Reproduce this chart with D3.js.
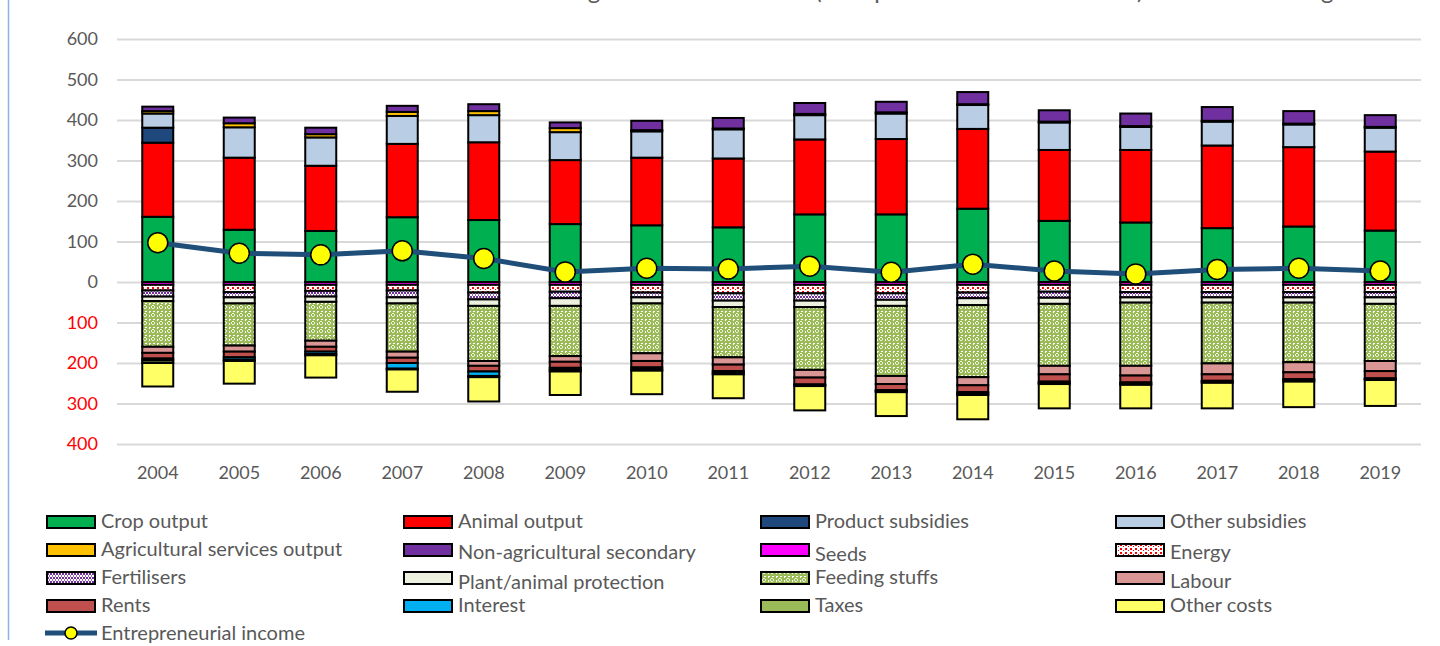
<!DOCTYPE html>
<html>
<head>
<meta charset="utf-8">
<script src="https://cdn.jsdelivr.net/npm/d3@7"></script>
<style>
  body { margin: 0; background: #fff; }
  svg text { font-family: Lato, "Open Sans", sans-serif; }
</style>
</head>
<body>
<div id="chart"></div>
<script>
// values (EUR thousand per farm)
var years = ["2004","2005","2006","2007","2008","2009","2010","2011","2012","2013","2014","2015","2016","2017","2018","2019"];

// output side (stacked up)
var cropOutput       = [161,129,126,160,153,143,140,135,167,167,181,151,147,133,137,127];
var animalOutput     = [183,178,161,181,192,158,167,170,185,186,197,175,179,204,196,195];
var productSubsidies = [37,0,0,0,0,0,0,0,0,0,0,0,0,0,0,0];
var otherSubsidies   = [35,75,70,69,67,69,65,72,60,63,59,68,57,59,56,59];
var agServices       = [6,10,8,10,10,10,3,2,3,3,2,2,2,2,2,2];
var nonAgSecondary   = [11,14,16,15,17,14,23,26,27,26,30,28,31,34,31,29];

// cost side (stacked down)
var seeds       = [7,7,7,7,7,7,7,7,7,7,7,7,7,7,7,7];
var energy      = [14,18,15,14,19,17,19,21,21,21,19,17,18,18,18,18];
var fertilisers = [15,13,14,17,17,16,12,18,18,16,14,15,13,13,13,13];
var protection  = [11,15,13,15,16,19,15,16,16,15,17,15,13,13,13,16];
var feeding     = [113,104,96,119,136,124,123,124,155,173,178,153,156,150,147,141];
var labour      = [15,15,15,15,12,14,19,18,19,20,20,21,24,27,25,25];
var rents       = [14,14,12,13,14,15,16,16,17,15,17,18,17,16,17,18];
var interest    = [5,6,6,14,11,5,5,5,2,2,3,3,3,2,3,2];
var taxes       = [6,3,3,2,3,4,3,3,2,3,4,3,3,3,3,2];
var otherCosts  = [58,56,55,55,60,58,58,59,60,59,60,60,58,63,63,64];

var income = [97,71,67,77,58,25,34,32,39,24,44,27,20,31,34,27];

var yTicks = [-400,-300,-200,-100,0,100,200,300,400,500,600];

var series = [
  { key: "crop",      label: "Crop output",                 values: cropOutput,       sign: 1,  fill: "#00B050" },
  { key: "animal",    label: "Animal output",               values: animalOutput,     sign: 1,  fill: "#FF0000" },
  { key: "psub",      label: "Product subsidies",           values: productSubsidies, sign: 1,  fill: "#1F497D" },
  { key: "osub",      label: "Other subsidies",             values: otherSubsidies,   sign: 1,  fill: "#B9CDE5" },
  { key: "agserv",    label: "Agricultural services output", values: agServices,      sign: 1,  fill: "#FFC000" },
  { key: "nonag",     label: "Non-agricultural secondary",  values: nonAgSecondary,   sign: 1,  fill: "#7030A0" },
  { key: "seeds",     label: "Seeds",                       values: seeds,            sign: -1, fill: "#FF00FF" },
  { key: "energy",    label: "Energy",                      values: energy,           sign: -1, fill: "url(#pEnergy)" },
  { key: "fert",      label: "Fertilisers",                 values: fertilisers,      sign: -1, fill: "url(#pFert)" },
  { key: "prot",      label: "Plant/animal protection",     values: protection,       sign: -1, fill: "#EBF1DE" },
  { key: "feed",      label: "Feeding stuffs",              values: feeding,          sign: -1, fill: "url(#pFeed)" },
  { key: "labour",    label: "Labour",                      values: labour,           sign: -1, fill: "#D99694" },
  { key: "rents",     label: "Rents",                       values: rents,            sign: -1, fill: "#C0504D" },
  { key: "interest",  label: "Interest",                    values: interest,         sign: -1, fill: "#00B0F0" },
  { key: "taxes",     label: "Taxes",                       values: taxes,            sign: -1, fill: "#9BBB59" },
  { key: "other",     label: "Other costs",                 values: otherCosts,       sign: -1, fill: "#FFFF66" }
];

// legend order (4 columns, row by row)
var legendOrder = ["crop","animal","psub","osub","agserv","nonag","seeds","energy",
                   "fert","prot","feed","labour","rents","interest","taxes","other"];

var W = 1440, H = 646;
var margin = { top: 39, left: 117 },
    width = 1304,
    height = 405;

var svg = d3.select("#chart").append("svg")
  .attr("width", W)
  .attr("height", H);

svg.append("rect").attr("width", W).attr("height", H).attr("fill", "#fff");

// patterns
var defs = svg.append("defs");
var pe = defs.append("pattern").attr("id", "pEnergy").attr("patternUnits", "userSpaceOnUse")
  .attr("width", 5).attr("height", 4);
pe.append("rect").attr("width", 5).attr("height", 4).attr("fill", "#fff");
pe.append("rect").attr("x", 0).attr("y", 0).attr("width", 2).attr("height", 2).attr("fill", "#FF0000");
pe.append("rect").attr("x", 3).attr("y", 2).attr("width", 1).attr("height", 1).attr("fill", "#FF0000");

var pf = defs.append("pattern").attr("id", "pFert").attr("patternUnits", "userSpaceOnUse")
  .attr("width", 6).attr("height", 4);
pf.append("rect").attr("width", 6).attr("height", 4).attr("fill", "#fff");
pf.append("path").attr("d", "M0,2 L1.5,0.5 L3,2 L4.5,0.5 L6,2 M0,2 L1.5,3.5 L3,2 L4.5,3.5 L6,2")
  .attr("stroke", "#7030A0").attr("stroke-width", 1).attr("fill", "none");

var pd = defs.append("pattern").attr("id", "pFeed").attr("patternUnits", "userSpaceOnUse")
  .attr("width", 8).attr("height", 8);
pd.append("rect").attr("width", 8).attr("height", 8).attr("fill", "#9BBB59");
pd.append("path").attr("d", "M0,0.5 L8,0.5 M0.5,0 L0.5,8")
  .attr("stroke", "#fff").attr("stroke-width", 1).attr("stroke-dasharray", "2,2");
pd.append("path").attr("d", "M2,4 L4,2 L6,4 L4,6 Z")
  .attr("stroke", "#fff").attr("stroke-width", 0.8).attr("fill", "none");

// left frame line
svg.append("line").attr("x1", 8.5).attr("x2", 8.5).attr("y1", 0).attr("y2", 640)
  .attr("stroke", "#8DB3E2").attr("stroke-width", 1.5);

// title (cut off at the top in the original)
svg.append("text")
  .attr("x", 384).attr("y", -1)
  .attr("font-size", 24).attr("fill", "#595959")
  .text("Farm income: average revenue and costs (EUR per farm in current terms) for the EU average");

var g = svg.append("g").attr("transform", "translate(" + margin.left + "," + margin.top + ")");

var x = d3.scaleBand().domain(years).range([0, width]).padding(0);
var y = d3.scaleLinear().domain([-400, 600]).range([height, 0]);

// gridlines + y labels
var yAxis = g.append("g")
  .call(d3.axisLeft(y).tickValues(yTicks).tickSize(-width).tickPadding(19)
    .tickFormat(function(d) { return Math.abs(d); }));
yAxis.select(".domain").remove();
yAxis.selectAll(".tick line").attr("stroke", "#D9D9D9").attr("stroke-width", 2);
yAxis.selectAll(".tick text")
  .attr("font-size", 18)
  .attr("font-family", "Lato, sans-serif")
  .attr("fill", function(d) { return d < 0 ? "#FF0000" : "#595959"; });

// x labels
var xAxis = g.append("g")
  .attr("transform", "translate(0," + height + ")")
  .call(d3.axisBottom(x).tickSize(0).tickPadding(22));
xAxis.select(".domain").remove();
xAxis.selectAll(".tick text")
  .attr("font-size", 18)
  .attr("font-family", "Lato, sans-serif")
  .attr("fill", "#595959");

// stack the table
var rows = years.map(function(yr, i) {
  var r = { year: yr };
  series.forEach(function(s) { r[s.key] = s.sign * s.values[i]; });
  return r;
});
var stacked = d3.stack()
  .keys(series.map(function(s) { return s.key; }))
  .offset(d3.stackOffsetDiverging)(rows);

var barW = 31;
var layers = g.selectAll(".layer")
  .data(stacked)
  .enter().append("g")
  .attr("class", "layer")
  .attr("fill", function(d, i) { return series[i].fill; });

layers.selectAll("rect")
  .data(function(d) { return d.filter(function(v) { return v[0] !== v[1]; }); })
  .enter().append("rect")
  .attr("x", function(d) { return x(d.data.year) + x.bandwidth() / 2 - barW / 2; })
  .attr("width", barW)
  .attr("y", function(d) { return y(Math.max(d[0], d[1])); })
  .attr("height", function(d) { return Math.abs(y(d[0]) - y(d[1])); })
  .attr("stroke", "#000")
  .attr("stroke-width", 2);

// entrepreneurial income line
var line = d3.line()
  .x(function(d, i) { return x(years[i]) + x.bandwidth() / 2; })
  .y(function(d) { return y(d); });

g.append("path")
  .datum(income)
  .attr("fill", "none")
  .attr("stroke", "#1F4E79")
  .attr("stroke-width", 5)
  .attr("d", line);

g.selectAll(".dot")
  .data(income)
  .enter().append("circle")
  .attr("class", "dot")
  .attr("cx", function(d, i) { return x(years[i]) + x.bandwidth() / 2; })
  .attr("cy", function(d) { return y(d); })
  .attr("r", 10)
  .attr("fill", "#FFFF00")
  .attr("stroke", "#000")
  .attr("stroke-width", 1.5);

// legend
var colX = [47, 404, 761, 1116];
var rowY = [522, 550, 578, 606];
// a few labels sit a little lower in the original
var textShift = { nonag: 3, seeds: 5, energy: 3, prot: 5, labour: 4 };
var legend = svg.append("g");
legendOrder.forEach(function(k, i) {
  var s = series.find(function(d) { return d.key === k; });
  var cx = colX[i % 4], cy = rowY[Math.floor(i / 4)];
  legend.append("rect")
    .attr("x", cx).attr("y", cy - 6)
    .attr("width", 48).attr("height", 12)
    .attr("fill", s.fill).attr("stroke", "#000").attr("stroke-width", 2);
  legend.append("text")
    .attr("x", cx + 54).attr("y", cy + 6 + (textShift[k] || 0))
    .attr("font-size", 20).attr("fill", "#595959")
    .text(s.label);
});
// line entry
legend.append("line").attr("x1", 45).attr("x2", 97).attr("y1", 633).attr("y2", 633)
  .attr("stroke", "#1F4E79").attr("stroke-width", 5);
legend.append("circle").attr("cx", 71).attr("cy", 633).attr("r", 6)
  .attr("fill", "#FFFF00").attr("stroke", "#000").attr("stroke-width", 1.5);
legend.append("text").attr("x", 101).attr("y", 640)
  .attr("font-size", 20).attr("fill", "#595959")
  .text("Entrepreneurial income");
</script>
</body>
</html>
